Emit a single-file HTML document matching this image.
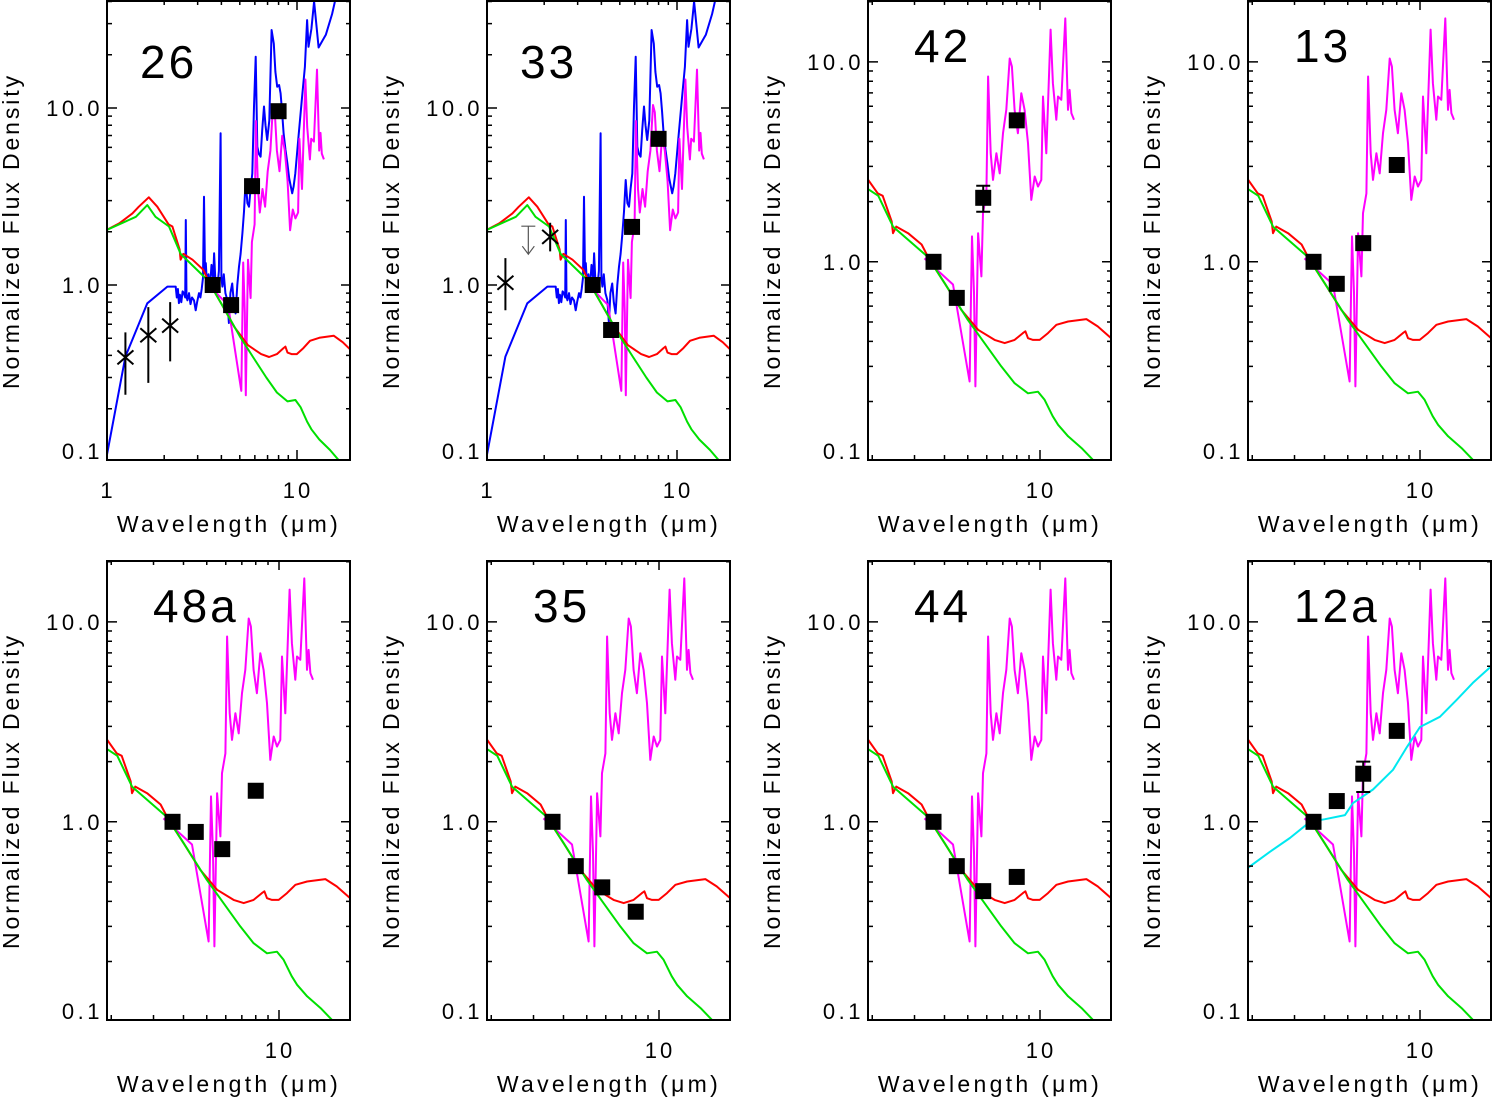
<!DOCTYPE html>
<html><head><meta charset="utf-8">
<style>
html,body{margin:0;padding:0;background:#fff;}
svg{display:block;}
text{font-family:"Liberation Sans",sans-serif;fill:#000;}
</style></head>
<body>
<svg id="fig" width="1493" height="1098" viewBox="0 0 1493 1098" xmlns="http://www.w3.org/2000/svg"></svg>
<script>
// ---- shared model curves (wavelength um, normalized flux) ----
const redLam  = [1.0,1.16,1.36,1.47,1.66,1.84,2.11,2.21,2.41,2.44,2.52,2.82,3.21,3.47,4.01,4.70,5.52,6.47,7.13,7.84,8.49,8.69,8.91,9.35,9.97,10.8,11.7,13.1,15.6,17.4,19.8,22];
const redFlux = [2.05,2.23,2.54,2.77,3.13,2.77,2.20,2.14,1.59,1.39,1.50,1.39,1.22,1.02,0.78,0.575,0.457,0.407,0.392,0.407,0.44,0.449,0.415,0.407,0.407,0.44,0.484,0.503,0.517,0.475,0.415,0.39];
const greenLam  = [1.0,1.42,1.63,1.80,2.12,2.41,2.44,3.40,4.01,5.00,5.87,6.89,7.84,8.91,9.81,10.45,11.3,11.9,13.1,14.9,16.9,19];
const greenFlux = [2.05,2.43,2.83,2.43,2.14,1.55,1.50,1.06,0.78,0.513,0.392,0.30,0.247,0.22,0.224,0.204,0.169,0.153,0.134,0.117,0.10,0.085];
const magLam  = [3.30,4.34,5.09,5.21,5.31,5.38,5.52,5.70,5.79,5.98,6.08,6.23,6.37,6.58,6.79,7.01,7.24,7.48,7.64,7.84,8.09,8.36,8.63,8.91,9.20,9.50,9.81,10.13,10.29,10.62,11.07,11.32,11.69,11.88,12.27,12.75,13.08,13.29,13.51,13.86];
const magFlux = [1.04,0.77,0.252,1.34,0.70,0.238,1.39,0.845,1.75,2.20,8.45,3.49,2.57,3.49,2.77,4.40,5.75,10.4,9.48,5.75,4.40,6.97,5.75,3.92,2.04,2.67,2.38,2.57,6.71,3.49,14.5,7.82,5.13,6.71,6.46,16.5,5.75,7.24,5.53,5.13];
const blueLam  = [1.0,1.25,1.63,2.08,2.30,2.33,2.36,2.39,2.42,2.46,2.50,2.54,2.58,2.60,2.62,2.65,2.70,2.75,2.80,2.87,2.93,2.98,3.05,3.10,3.15,3.20,3.24,3.28,3.31,3.36,3.42,3.48,3.55,3.62,3.66,3.72,3.81,3.88,3.96,4.00,4.05,4.12,4.20,4.30,4.38,4.46,4.56,4.65,4.75,4.85,4.95,5.05,5.16,5.26,5.37,5.48,5.59,5.70,5.82,5.94,6.06,6.18,6.30,6.43,6.56,6.70,6.83,6.97,7.15,7.35,7.55,7.70,7.87,8.05,8.2,8.35,8.5,8.7,8.9,9.1,9.44,9.6,9.8,10.2,10.6,11.0,11.3,11.5,11.9,12.3,13.0,13.6,14.2,15.3,16.6];
const blueFlux = [0.11,0.394,0.788,0.98,0.98,0.85,0.95,0.79,0.88,0.80,0.92,0.90,0.85,2.33,0.86,0.82,0.90,0.78,0.85,0.82,0.72,0.80,0.90,0.85,0.95,1.1,3.15,1.2,1.33,1.0,1.15,0.95,1.3,1.1,1.51,1.05,0.98,1.2,7.2,1.1,0.98,1.15,0.9,0.82,0.61,0.9,1.02,0.8,0.69,1.0,1.27,1.5,1.96,2.6,3.92,2.9,2.77,3.5,4.27,10.2,19.5,6.05,5.5,5.31,7.5,10.2,8.0,6.6,8.5,27.6,23.1,16,13.2,13.5,12.1,9.5,7.2,5.8,4.86,4.0,3.30,3.6,4.27,7.0,11.1,17.1,31.4,22.2,28,40,22,24,26,34,50];
const cyanLam  = [1.92,2.37,2.87,3.48,4.02,4.87,5.26,6.37,7.72,8.83,10,12.1,14.2,16.6,19.5,21];
const cyanFlux = [0.589,0.708,0.83,1.0,1.03,1.08,1.24,1.45,1.82,2.37,2.98,3.35,4.07,4.95,5.9,6.3];
// ---- photometry ----
const bands = [3.6,4.5,5.8,8.0];
const names = ["26","33","42","13","48a","35","44","12a"];
const flux26 = [1.0,0.77,3.62,9.6];
const flux33 = [1.0,0.557,2.13,6.7];
const flux42 = [1.0,0.66,2.09,5.1];
const flux13 = [1.0,0.776,1.24,3.05];
const flux48a = [1.0,0.89,0.73,1.43];
const flux35 = [1.0,0.60,0.47,0.355];
const flux44 = [1.0,0.60,0.45,0.53];
const flux12a = [1.0,1.27,1.74,2.85];
const err42Lo = [null,0.62,1.78,null], err42Hi=[null,0.70,2.40,null];
const err13Lo = [null,null,1.17,null], err13Hi=[null,null,1.32,null];
const err12aLo = [null,null,1.41,null], err12aHi=[null,null,2.0,null];
const nirLam = [1.25,1.65,2.15];
const nir26 = [0.39,0.52,0.59], nir26Lo=[0.24,0.28,0.37], nir26Hi=[0.54,0.75,0.80];
const nir33Lam=[1.25,2.15], nir33=[1.03,1.87], nir33Lo=[0.72,1.55], nir33Hi=[1.42,2.25];
const lim33Lam=[1.65], lim33=[2.15];
const yTicks=[0.1,1,10], yTickLabels=["0.1","1.0","10.0"];

const NS="http://www.w3.org/2000/svg";
const svg=document.getElementById('fig');
function mk(tag,attrs,parent){const e=document.createElementNS(NS,tag);for(const k in attrs)e.setAttribute(k,attrs[k]);(parent||svg).appendChild(e);return e;}

const cols=[107,487,868,1248], rows=[0,560], W=244, H=460;
const fluxes=[flux26,flux33,flux42,flux13,flux48a,flux35,flux44,flux12a];

names.forEach((nm,i)=>{
  const wide = i<2;
  const x0=cols[i%4], y0=rows[Math.floor(i/4)];
  const xmin= wide?1.0:1.92, xmax= wide?Math.pow(10,W/190):Math.pow(10,1+72/240);
  const ymin= wide?0.1026:0.102, ymax= wide?40.8:20.4;
  const lx0=Math.log10(xmin), lx1=Math.log10(xmax), ly0=Math.log10(ymin), ly1=Math.log10(ymax);
  const X=v=>x0+(Math.log10(v)-lx0)/(lx1-lx0)*W;
  const Y=v=>y0+H-(Math.log10(v)-ly0)/(ly1-ly0)*H;
  const g=mk('g',{});
  
  
  const cid='clip'+i;
  const cp=mk('clipPath',{id:cid},g); mk('rect',{x:x0,y:y0,width:W,height:H},cp);
  const pg=mk('g',{'clip-path':'url(#'+cid+')'},g);
  function line(lam,fl,color,name,w){
    const d=lam.map((l,k)=>(k?'L':'M')+X(l).toFixed(1)+' '+Y(fl[k]).toFixed(1)).join(' ');
    const p=mk('path',{d:d,fill:'none',stroke:color,'stroke-width':w||2,'stroke-linejoin':'round'},pg);
    
    
  }
  if(wide) line(blueLam,blueFlux,'#0000ff','blue-spectrum');
  line(magLam,magFlux,'#ff00ff','magenta-spectrum');
  line(redLam,redFlux,'#ff0000','red-model');
  line(greenLam,greenFlux,'#00e000','green-photosphere');
  if(i===7) line(cyanLam,cyanFlux,'#00e8f0','cyan-model');
  const f=fluxes[i];
  let lo=null,hi=null;
  if(i===2){lo=err42Lo;hi=err42Hi;} if(i===3){lo=err13Lo;hi=err13Hi;} if(i===7){lo=err12aLo;hi=err12aHi;}
  bands.forEach((b,k)=>{
    const cx=X(b), cy=Y(f[k]);
    if(lo&&lo[k]!=null){
      const e=mk('path',{d:`M${cx} ${Y(lo[k])}V${Y(hi[k])}M${cx-7} ${Y(lo[k])}H${cx+7}M${cx-7} ${Y(hi[k])}H${cx+7}`,stroke:'#000','stroke-width':2,fill:'none'},pg);
      
      
    }
    const r=mk('rect',{x:cx-8,y:cy-8,width:16,height:16,fill:'#000'},pg);
    
    
  });
  function cross(lam,fl,l,h){
    lam.forEach((L,k)=>{
      const cx=X(L), cy=Y(fl[k]);
      const c=mk('path',{d:`M${cx-8} ${cy-7}L${cx+8} ${cy+7}M${cx-8} ${cy+7}L${cx+8} ${cy-7}M${cx} ${Y(l[k])}V${Y(h[k])}`,stroke:'#000','stroke-width':2,fill:'none'},pg);
      
      
    });
  }
  if(i===0) cross(nirLam,nir26,nir26Lo,nir26Hi);
  if(i===1){
    cross(nir33Lam,nir33,nir33Lo,nir33Hi);
    const cx=X(lim33Lam[0]), cy=Y(lim33[0]);
    const a=mk('path',{d:`M${cx-7} ${cy}H${cx+7}M${cx} ${cy}V${cy+28}M${cx-6} ${cy+20}L${cx} ${cy+28}L${cx+6} ${cy+20}`,stroke:'#555','stroke-width':1.2,fill:'none'},pg);
    
    
  }
  const fr=mk('rect',{x:x0,y:y0+1,width:W-1,height:H-1,fill:'none',stroke:'#000','stroke-width':2},g);
  
  
  let td='';
  for(let dec=-2;dec<=2;dec++){for(let m=1;m<=9;m++){const v=m*Math.pow(10,dec);if(v<ymin||v>ymax)continue;const y=Y(v),len=m===1?10:5;td+=`M${x0} ${y}h${len}M${x0+W} ${y}h${-len}`;}}
  for(let dec=-1;dec<=2;dec++){for(let m=1;m<=9;m++){const v=m*Math.pow(10,dec);if(v<xmin*1.01||v>xmax*0.99)continue;const x=X(v),len=m===1?10:5;td+=`M${x} ${y0+H}v${-len}M${x} ${y0}v${len}`;}}
  mk('path',{d:td,stroke:'#000','stroke-width':1.5,fill:'none'},g);
  yTicks.forEach((v,k)=>{
    let y=Y(v)+8; if(k===0) y=y0+H-1;
    const t=mk('text',{x:x0-4,y:y,'text-anchor':'end','font-size':22,'letter-spacing':3.5},g);
    t.textContent=yTickLabels[k];
    
    
  });
  const xt = wide?[1,10]:[10];
  xt.forEach(v=>{
    const t=mk('text',{x:X(v)+1,y:y0+H+38,'text-anchor':'middle','font-size':22,'letter-spacing':3},g);
    t.textContent=String(v);
    
    
  });
  const xtl=mk('text',{x:x0+W/2,y:y0+H+72,'text-anchor':'middle','font-size':23,'letter-spacing':3.3},g);
  xtl.textContent='Wavelength (\u03bcm)';
  
  
  const ytl=mk('text',{x:0,y:0,'text-anchor':'middle','font-size':23,'letter-spacing':2.9,transform:`translate(${x0-88},${y0+231}) rotate(-90)`},g);
  ytl.textContent='Normalized Flux Density';
  
  
  const pl=mk('text',{x:x0+(wide?33:46),y:y0+(wide?78:62),'font-size':46,'letter-spacing':3},g);
  pl.textContent=nm;
  
  
});
</script>
</body></html>
